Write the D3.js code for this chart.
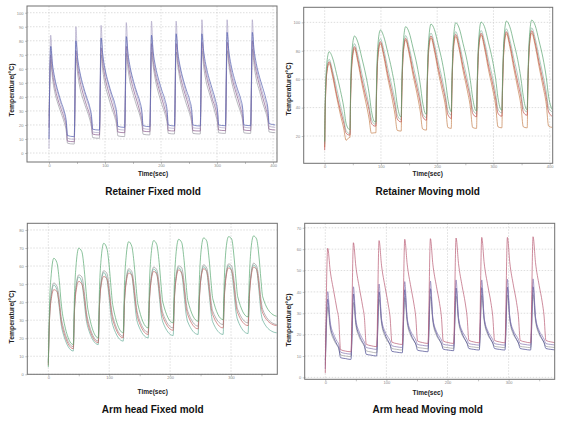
<!DOCTYPE html>
<html><head><meta charset="utf-8">
<script src="https://cdn.jsdelivr.net/npm/d3@7"></script>
<style>body{margin:0;background:#fff}svg{display:block}</style>
</head><body><svg id="c" width="564" height="422"></svg>
<script>
// ---------------- DATA ----------------
// Panel 1: Retainer Fixed mold
const p1Title = "Retainer Fixed mold";
const p1XTicks = [0, 100, 200, 300, 400];
const p1YTicks = [0, 10, 20, 30, 40, 50, 60, 70, 80, 90, 100];
const p1Starts = [0, 45, 90, 135, 180, 224, 270, 315, 360];
const p1Phases = [0, 3, 6, 10, 16, 22, 27, 31, 33, 44];
const p1A = [
 [3, 84, 62, 52, 42, 34, 28, 20, 10.5, 9.8],
 [9.8, 90, 66, 56, 46, 38, 32, 24, 15, 14.5],
 [14.5, 91, 68, 58, 48, 40, 33, 26, 17, 16.4],
 [16.4, 93, 69, 59, 49, 41, 34, 27, 17.5, 16.9],
 [16.9, 94, 70, 59, 49, 41, 35, 27, 18, 17.6],
 [17.6, 94, 70, 60, 50, 41, 35, 27, 18, 17.6],
 [17.6, 95, 71, 60, 50, 42, 35, 28, 18.5, 17.9],
 [17.9, 95, 71, 60, 50, 42, 36, 28, 18.5, 17.9],
 [17.9, 95, 71, 61, 51, 42, 36, 28, 19, 18.3]];
const p1B = [
 [10, 76, 64, 54, 44, 36, 30, 22, 12.5, 11.7],
 [11.7, 80, 68, 58, 48, 40, 34, 26, 17, 16.4],
 [16.4, 82, 70, 60, 50, 42, 36, 28, 19, 18.3],
 [18.3, 83, 71, 61, 51, 43, 37, 29, 19.5, 18.8],
 [18.8, 84, 72, 62, 52, 44, 38, 30, 20, 19.3],
 [19.3, 85, 72, 62, 52, 44, 38, 30, 20, 19.3],
 [19.3, 85, 73, 63, 53, 45, 38, 30, 20, 19.5],
 [19.5, 86, 73, 63, 53, 45, 39, 31, 20, 19.5],
 [19.5, 86, 74, 64, 54, 46, 39, 31, 21, 20]];
const p1C = [
 [18, 70, 58, 48, 38, 31, 25, 18, 8.5, 8.1],
 [8.1, 73, 62, 52, 42, 34, 28, 21, 13.5, 12.9],
 [12.9, 75, 64, 54, 44, 36, 29, 22, 15, 14.5],
 [14.5, 76, 65, 55, 45, 37, 30, 23, 15.6, 15.2],
 [15.2, 78, 66, 56, 46, 38, 31, 24, 16, 15.7],
 [15.7, 78, 66, 56, 46, 38, 31, 24, 16, 15.7],
 [15.7, 79, 67, 57, 47, 38, 32, 24, 16.4, 16],
 [16, 79, 67, 57, 47, 39, 32, 25, 16.4, 16],
 [16, 80, 68, 58, 48, 39, 32, 25, 17, 16.4]];
const p1D = [
 [26, 66, 54, 44, 35, 28, 22, 15, 7, 6.4],
 [6.4, 68, 57, 47, 38, 31, 25, 18, 11, 10.5],
 [10.5, 70, 59, 49, 40, 32, 26, 19, 12.2, 11.7],
 [11.7, 71, 60, 50, 41, 33, 27, 20, 13.4, 12.9],
 [12.9, 72, 62, 52, 42, 34, 28, 21, 14, 13.6],
 [13.6, 72, 62, 52, 42, 34, 28, 21, 14, 13.6],
 [13.6, 73, 62, 52, 43, 35, 28, 21, 14.4, 14],
 [14, 73, 63, 53, 43, 35, 29, 22, 14.4, 14],
 [14, 74, 63, 53, 44, 35, 29, 22, 15, 14.5]];

// Panel 2: Retainer Moving mold
const p2Title = "Retainer Moving mold";
const p2XTicks = [0, 100, 200, 300, 400];
const p2YTicks = [20, 40, 60, 80, 100];
const p2Starts = [0, 45, 91, 136, 181, 225, 270, 315, 360];
const p2Phases = [0, 1, 4, 8, 14, 21, 28, 34, 38, 44];
const p2G = [
 [16, 45, 72, 79.3, 75, 64, 52, 40, 29, 24.6],
 [24.6, 52, 82, 90.4, 86, 75, 63, 50, 38, 30],
 [30, 54, 86, 94.6, 90, 79, 67, 54, 42, 33.6],
 [33.6, 55, 87, 97, 93, 82, 70, 56, 44, 35.4],
 [35.4, 55, 88, 98.8, 95, 84, 72, 58, 46, 37.1],
 [37.1, 56, 89, 99.8, 96, 85, 73, 59, 47, 37.8],
 [37.8, 56, 89, 100.2, 97, 86, 74, 60, 47, 38.3],
 [38.3, 57, 90, 100.9, 97, 86, 74, 60, 48, 38.7],
 [38.7, 57, 90, 101.6, 98, 87, 75, 61, 48, 38.7]];
const p2GG = [
 [14, 42, 68, 74, 66, 54, 42, 32, 24, 21.8],
 [21.8, 48, 77, 85, 77, 64, 52, 41, 32, 28.4],
 [28.4, 50, 81, 88.5, 81, 68, 56, 45, 35, 31.7],
 [31.7, 51, 83, 90.7, 83, 70, 58, 46, 36, 33.1],
 [33.1, 52, 85, 92.4, 85, 72, 60, 48, 38, 34.7],
 [34.7, 53, 86, 93.5, 86, 73, 61, 49, 39, 35.9],
 [35.9, 53, 86, 94.3, 87, 74, 62, 50, 39, 36.4],
 [36.4, 54, 87, 95.4, 88, 75, 63, 51, 40, 37.1],
 [37.1, 54, 87, 96.1, 89, 76, 63, 51, 40, 37.1]];
const p2R = [
 [10, 40, 66, 72.3, 64, 50, 38, 29, 22, 20.7],
 [20.7, 46, 75, 82.9, 74, 60, 48, 38, 29, 27],
 [27, 48, 79, 86.4, 78, 64, 52, 41, 32, 30],
 [30, 49, 81, 88.7, 80, 66, 54, 43, 34, 31.2],
 [31.2, 50, 83, 90.4, 82, 68, 56, 45, 35, 32.4],
 [32.4, 51, 84, 91.5, 83, 69, 57, 46, 36, 33.6],
 [33.6, 51, 84, 92.3, 84, 70, 58, 46, 36, 34],
 [34, 52, 85, 93.4, 85, 71, 58, 47, 37, 34.7],
 [34.7, 52, 85, 94.1, 86, 72, 59, 47, 37, 34]];
const p2O = [
 [12, 39, 65, 71, 62, 48, 35, 25, 17, 19],
 [19, 44, 73, 81.5, 72, 57, 44, 32, 22, 22.3],
 [22.3, 46, 77, 85, 76, 61, 48, 35, 24, 23.5],
 [23.5, 47, 79, 87.5, 78, 63, 50, 37, 25, 24.2],
 [24.2, 48, 80, 89, 80, 65, 52, 40, 26, 25.4],
 [25.4, 49, 81, 90, 81, 66, 53, 40, 26, 25.4],
 [25.4, 49, 82, 91, 82, 67, 54, 41, 26.5, 25.8],
 [25.8, 50, 82, 92, 83, 68, 54, 41, 26.5, 25.8],
 [25.8, 50, 83, 92.5, 84, 69, 55, 42, 27, 26.1]];

// Panel 3: Arm head Fixed mold
const p3Title = "Arm head Fixed mold";
const p3XTicks = [0, 100, 200, 300];
const p3YTicks = [0, 10, 20, 30, 40, 50, 60, 70, 80];
const p3Starts = [0, 41, 82, 123, 164, 205, 246, 287, 328];
const p3Phases = [0, 2, 5, 9, 14, 18, 21, 24, 41];
const p3TailTime = 375;
const p3G1 = [
 [4, 38, 56, 64.3, 62, 52, 40, 32, 16.5],
 [16.5, 44, 62, 69.9, 68, 58, 46, 36, 20.2],
 [20.2, 47, 65, 72.6, 70, 60, 48, 38, 23],
 [23, 49, 66, 73.5, 71, 61, 49, 39, 25.7],
 [25.7, 50, 67, 74.1, 72, 62, 50, 40, 28.5],
 [28.5, 51, 68, 74.8, 73, 63, 51, 41, 29.4],
 [29.4, 52, 69, 75.6, 74, 64, 52, 42, 30.3],
 [30.3, 53, 70, 76.3, 75, 65, 53, 43, 31.8],
 [31.8, 53, 70, 76.7, 75, 65, 53, 43, 33]];
const p3G1Tail = 32.2;
const p3Gy = [
 [6, 32, 45, 50.6, 49, 42, 32, 27, 15.3],
 [15.3, 37, 50, 55.1, 54, 46, 36, 30, 18.4],
 [18.4, 39, 52, 57.4, 56, 48, 38, 32, 21.1],
 [21.1, 41, 53, 58.5, 57, 49, 39, 33, 23.3],
 [23.3, 42, 54, 59.4, 58, 50, 40, 34, 25.7],
 [25.7, 43, 55, 60.1, 59, 51, 41, 35, 26.7],
 [26.7, 43, 55, 60.7, 59, 51, 41, 35, 27.6],
 [27.6, 44, 56, 61.2, 60, 52, 42, 36, 28.5],
 [28.5, 44, 56, 61.6, 60, 52, 42, 36, 28.2]];
const p3GyTail = 27.6;
const p3R = [
 [5, 30, 42, 46.9, 46, 39, 30, 25, 14.2],
 [14.2, 35, 47, 51.5, 50, 43, 34, 28, 17.5],
 [17.5, 38, 50, 54.2, 53, 45, 36, 30, 20.2],
 [20.2, 39, 51, 56.1, 55, 46, 37, 31, 22.1],
 [22.1, 40, 52, 57, 55.5, 47, 37, 32, 24.4],
 [24.4, 41, 53, 57.9, 56, 48, 38, 33, 25.2],
 [25.2, 41, 54, 58.5, 57, 48, 38, 33, 25.7],
 [25.7, 42, 54, 59, 57.5, 49, 39, 34, 27],
 [27, 42, 54, 59.4, 58, 49, 39, 34, 27.5]];
const p3RTail = 27;
const p3G2 = [
 [7, 31, 44, 49.5, 47, 37, 28, 23, 12.9],
 [12.9, 36, 49, 54, 51, 40, 31, 26, 16.5],
 [16.5, 38, 51, 56.4, 53, 42, 32, 27, 18.4],
 [18.4, 40, 52, 57.5, 55, 43, 33, 28, 20.2],
 [20.2, 41, 53, 58.4, 56, 44, 34, 29, 21.5],
 [21.5, 42, 54, 59.1, 56, 44, 34, 29, 22.1],
 [22.1, 42, 54, 59.7, 57, 45, 35, 29, 22.1],
 [22.1, 43, 55, 60.2, 57, 45, 35, 30, 22.6],
 [22.6, 43, 55, 60.6, 58, 46, 35, 30, 23.5]];
const p3G2Tail = 23;

// Panel 4: Arm head Moving mold
const p4Title = "Arm head Moving mold";
const p4XTicks = [0, 100, 200, 300];
const p4YTicks = [0, 10, 20, 30, 40, 50, 60, 70];
const p4Starts = [0, 42, 84, 126, 168, 210, 252, 294, 336];
const p4Phases = [0, 4, 8, 14, 19, 22, 25, 33, 41];
const p4Rd = [
 [2, 60.4, 50, 40, 32, 27, 13, 12.3, 12],
 [12, 63, 52, 41.5, 33.5, 28, 15.5, 14.8, 14.4],
 [14.4, 64, 52.5, 42, 34, 28.2, 16.5, 15.8, 15.4],
 [15.4, 64.6, 53, 42.3, 34.4, 28.3, 17, 16.3, 15.9],
 [15.9, 64.9, 53, 42.4, 34.6, 28.4, 17, 16.3, 15.9],
 [15.9, 65.2, 53.3, 42.6, 34.8, 28.5, 17.3, 16.6, 16.2],
 [16.2, 65.5, 53.5, 42.8, 35, 28.6, 17.3, 16.6, 16.2],
 [16.2, 65.5, 53.5, 42.8, 35, 28.6, 17.3, 16.6, 16.2],
 [16.2, 65.8, 53.7, 43, 35.2, 28.7, 17.3, 16.6, 16.2]];
const p4Pu = [
 [4, 40.1, 26, 20, 17, 15.5, 11.8, 11.2, 10.9],
 [10.9, 42.4, 27, 21, 18, 16.5, 14, 13.5, 13.1],
 [13.1, 43.7, 27.5, 21.3, 18.7, 17.2, 14.8, 14.3, 14],
 [14, 44.8, 27.8, 21.5, 19, 17.5, 15.4, 15, 14.7],
 [14.7, 45.1, 27.8, 21.5, 19, 17.5, 15.5, 15.1, 14.8],
 [14.8, 45.6, 28, 21.7, 19.2, 17.7, 15.8, 15.4, 15.1],
 [15.1, 45.6, 28, 21.7, 19.2, 17.7, 15.8, 15.4, 15.1],
 [15.1, 45.9, 28.2, 21.8, 19.3, 17.8, 15.8, 15.4, 15.1],
 [15.1, 46.1, 28.3, 21.9, 19.4, 17.9, 15.8, 15.4, 15.1]];
const p4Gy = [
 [6, 33, 23, 17.5, 15, 13.5, 10.5, 10, 9.7],
 [9.7, 35, 24.5, 18.5, 16, 14.5, 12.4, 11.9, 11.5],
 [11.5, 36.5, 25.3, 19, 16.5, 15.2, 13.5, 13.1, 12.8],
 [12.8, 37.3, 25.7, 19.4, 17, 15.7, 14, 13.7, 13.4],
 [13.4, 37.8, 26, 19.6, 17.2, 15.9, 14.2, 13.9, 13.6],
 [13.6, 38, 26.2, 19.8, 17.4, 16, 14.5, 14.2, 13.9],
 [13.9, 38.3, 26.3, 19.9, 17.5, 16.1, 14.5, 14.2, 13.9],
 [13.9, 38.5, 26.4, 20, 17.6, 16.2, 14.5, 14.2, 13.9],
 [13.9, 38.7, 26.5, 20.1, 17.7, 16.3, 14.5, 14.2, 13.9]];
const p4Bl = [
 [8, 36.6, 24.5, 18.5, 15.5, 13.8, 9.2, 8.8, 8.4],
 [8.4, 39, 25.8, 19.5, 16.5, 14.8, 10.8, 10.4, 10],
 [10, 40, 26.5, 20, 17, 15.3, 12.2, 11.8, 11.5],
 [11.5, 41, 27, 20.3, 17.3, 15.6, 12.7, 12.3, 12],
 [12, 41.5, 27.2, 20.5, 17.5, 15.8, 13.2, 12.8, 12.5],
 [12.5, 41.8, 27.4, 20.6, 17.6, 15.9, 13.5, 13.1, 12.8],
 [12.8, 42, 27.5, 20.7, 17.7, 16, 13.5, 13.1, 12.8],
 [12.8, 42.2, 27.6, 20.8, 17.8, 16.1, 13.5, 13.1, 12.8],
 [12.8, 42.4, 27.7, 20.9, 17.9, 16.2, 13.5, 13.1, 12.8]];

const xLabel = "Time(sec)";
const yLabel = "Temperature(°C)";

// ---------------- LAYOUT ----------------
const panels = [
 {title:p1Title, box:[27,6,277,162], xd:[-39.3,407.1], yd:[-6.4,104.8], xt:p1XTicks, yt:p1YTicks,
  starts:p1Starts, phases:p1Phases, tx:153, tTitleY:195, tTimeY:175.5, yLabX:12, yLabY:90,
  series:[{d:p1D,c:"#9a9aa4"},{d:p1C,c:"#8a5a8c"},{d:p1A,c:"#aaa2c4"},{d:p1B,c:"#5560b0"}]},
 {title:p2Title, box:[303.7,7.3,552.7,163.3], xd:[-37.3,405.3], yd:[0.8,110.6], xt:p2XTicks, yt:p2YTicks,
  starts:p2Starts, phases:p2Phases, tx:427.7, tTitleY:195, tTimeY:175.5, yLabX:288.5, yLabY:89,
  series:[{d:p2O,c:"#c4804e"},{d:p2GG,c:"#8ebaa6"},{d:p2R,c:"#bc4a48"},{d:p2G,c:"#5aa470"}]},
 {title:p3Title, box:[27.3,223.3,277.3,374.3], xd:[-34.5,376], yd:[0,83.7], xt:p3XTicks, yt:p3YTicks,
  starts:p3Starts, phases:p3Phases, tx:152.7, tTitleY:413, tTimeY:394, yLabX:12, yLabY:317,
  tailT:p3TailTime,
  series:[{d:p3G2,c:"#66ae98",tail:p3G2Tail},{d:p3Gy,c:"#959595",tail:p3GyTail},{d:p3R,c:"#c66464",tail:p3RTail},{d:p3G1,c:"#58a870",tail:p3G1Tail}]},
 {title:p4Title, box:[304.7,223.3,554.7,379.3], xd:[-33.7,375.4], yd:[-0.9,72.1], xt:p4XTicks, yt:p4YTicks,
  starts:p4Starts, phases:p4Phases, tx:427.7, tTitleY:413, tTimeY:394.5, yLabX:288.5, yLabY:320,
  series:[{d:p4Gy,c:"#9c9c9c"},{d:p4Bl,c:"#46468e"},{d:p4Pu,c:"#8474b0"},{d:p4Rd,c:"#b85a72"}]}
];

const svg = d3.select("#c");
svg.append("rect").attr("width",564).attr("height",422).attr("fill","#fff");

panels.forEach((p,i) => {
  const [x0,y0,x1,y1] = p.box;
  const x = d3.scaleLinear().domain(p.xd).range([x0,x1]);
  const y = d3.scaleLinear().domain(p.yd).range([y1,y0]);
  const g = svg.append("g");
  const cid = "clip"+i;
  svg.append("clipPath").attr("id",cid).append("rect")
    .attr("x",x0).attr("y",y0).attr("width",x1-x0).attr("height",y1-y0);

  // gridlines
  g.selectAll(".hg").data(p.yt).join("line")
    .attr("x1",x0).attr("x2",x1).attr("y1",d=>y(d)).attr("y2",d=>y(d))
    .attr("stroke","#c8c8c8").attr("stroke-width",0.6).attr("stroke-dasharray","1.5,1.5");
  g.selectAll(".vg").data(p.xt).join("line")
    .attr("y1",y0).attr("y2",y1).attr("x1",d=>x(d)).attr("x2",d=>x(d))
    .attr("stroke","#c8c8c8").attr("stroke-width",0.6).attr("stroke-dasharray","1.5,1.5");

  // axes
  const minor = p.xt.map(v=>v+50).filter(v=>x(v)<x1);
  const ax = g.append("g").attr("transform",`translate(0,${y1})`)
    .call(d3.axisBottom(x).tickValues(p.xt.concat(minor)).tickSize(2).tickFormat(d=>p.xt.includes(d)?d:""));
  ax.select(".domain").remove();
  ax.selectAll("line").attr("stroke","#888").attr("stroke-width",0.5);
  ax.selectAll("text").attr("font-size",4).attr("fill","#888").attr("font-family","Liberation Sans, Arial").attr("dy","0.55em").attr("y",3);
  const ay = g.append("g").attr("transform",`translate(${x0},0)`)
    .call(d3.axisLeft(y).tickValues(p.yt).tickSize(2));
  ay.select(".domain").remove();
  ay.selectAll("line").attr("stroke","#888").attr("stroke-width",0.5);
  ay.selectAll("text").attr("font-size",4).attr("fill","#888").attr("font-family","Liberation Sans, Arial").attr("x",-3.5);

  // lines
  const line = d3.line().x(d=>x(d.t)).y(d=>y(d.v)).curve(d3.curveMonotoneX);
  const lg = g.append("g").attr("clip-path",`url(#${cid})`);
  p.series.forEach(s => {
    const pts = [];
    s.d.forEach((cyc,k) => cyc.forEach((v,j) => pts.push({t:p.starts[k]+p.phases[j], v})));
    if (s.tail !== undefined) pts.push({t:p.tailT, v:s.tail});
    lg.append("path").datum(pts).attr("d",line).attr("fill","none")
      .attr("stroke",s.c).attr("stroke-width",0.7).attr("stroke-linejoin","round");
  });

  // frame
  g.append("rect").attr("x",x0).attr("y",y0).attr("width",x1-x0).attr("height",y1-y0)
    .attr("fill","none").attr("stroke","#707070").attr("stroke-width",1);

  // labels
  g.append("text").attr("x",p.tx).attr("y",p.tTimeY).attr("text-anchor","middle")
    .attr("font-family","Liberation Sans, Arial").attr("font-weight","bold").attr("font-size",6.5)
    .attr("fill","#222").text(xLabel);
  g.append("text").attr("transform",`translate(${p.yLabX},${p.yLabY}) rotate(-90)`)
    .attr("text-anchor","middle").attr("dy","0.35em")
    .attr("font-family","Liberation Sans, Arial").attr("font-weight","bold").attr("font-size",6.8)
    .attr("fill","#222").text(yLabel);
  g.append("text").attr("x",p.tx).attr("y",p.tTitleY).attr("text-anchor","middle")
    .attr("font-family","Liberation Sans, Arial").attr("font-weight","bold").attr("font-size",10)
    .attr("fill","#111").text(p.title);
});
</script></body></html>
